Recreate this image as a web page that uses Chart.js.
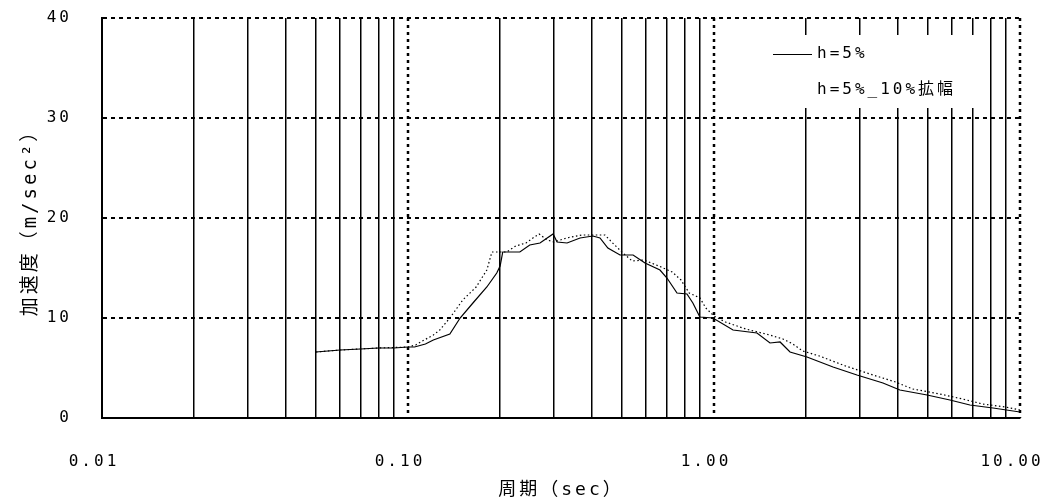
<!DOCTYPE html>
<html>
<head>
<meta charset="utf-8">
<script src="https://cdn.jsdelivr.net/npm/chart.js@4.4.0/dist/chart.umd.min.js"></script>
<style>
    html, body { margin: 0; padding: 0; background: #fff; }
    #wrap { width: 1048px; height: 502px; position: relative; }
</style>
</head>
<body>
<div id="wrap"><canvas id="spectrum"></canvas></div>
<script>
// h=5% response spectrum (period sec / acceleration m/sec2)
const periods5 = [0.050, 0.060, 0.070, 0.080, 0.090, 0.100, 0.105, 0.114, 0.121, 0.137,
                  0.148, 0.163, 0.181, 0.195, 0.200, 0.204, 0.232, 0.250, 0.270, 0.285,
                  0.298, 0.307, 0.331, 0.365, 0.402, 0.424, 0.450, 0.493, 0.544, 0.595,
                  0.666, 0.702, 0.757, 0.816, 0.853, 0.899, 0.992, 1.154, 1.382, 1.524,
                  1.644, 1.772, 2.013, 2.449, 2.932, 3.566, 4.050, 4.970, 5.900, 6.860,
                  8.160, 10.00];
const accel5 = [6.6, 6.8, 6.9, 7.0, 7.0, 7.1, 7.1, 7.4, 7.8, 8.4,
                10.0, 11.5, 13.1, 14.5, 15.2, 16.6, 16.6, 17.3, 17.5, 18.0,
                18.4, 17.6, 17.5, 18.0, 18.2, 18.0, 17.0, 16.3, 16.3, 15.5,
                14.8, 14.0, 12.5, 12.4, 11.5, 10.1, 10.0, 8.8, 8.5, 7.5,
                7.6, 6.6, 6.1, 5.1, 4.3, 3.5, 2.8, 2.3, 1.8, 1.3,
                1.0, 0.6];

// h=5% with 10% widening
const periods10 = [0.050, 0.060, 0.080, 0.100, 0.106, 0.110, 0.121, 0.127, 0.137, 0.151,
                   0.167, 0.181, 0.188, 0.210, 0.225, 0.243, 0.256, 0.268, 0.285, 0.300,
                   0.330, 0.370, 0.440, 0.470, 0.500, 0.540, 0.590, 0.660, 0.730, 0.780,
                   0.830, 0.900, 0.940, 1.000, 1.090, 1.270, 1.520, 1.680, 1.810, 1.950,
                   2.210, 2.690, 3.230, 3.920, 4.460, 5.470, 6.490, 7.550, 8.980, 10.00];
const accel10 = [6.6, 6.8, 7.0, 7.1, 7.3, 7.6, 8.3, 8.8, 10.0, 11.8,
                 13.1, 14.8, 16.6, 16.6, 17.2, 17.5, 18.0, 18.4, 17.8, 17.6,
                 18.0, 18.3, 18.3, 17.4, 16.6, 15.7, 15.8, 15.2, 14.6, 13.8,
                 12.5, 12.0, 11.0, 10.2, 9.6, 8.9, 8.3, 7.9, 7.4, 6.7,
                 6.2, 5.2, 4.4, 3.6, 2.9, 2.4, 1.9, 1.4, 1.1, 0.8];

const xTicks = [0.01, 0.02, 0.03, 0.04, 0.05, 0.06, 0.07, 0.08, 0.09,
                0.1, 0.2, 0.3, 0.4, 0.5, 0.6, 0.7, 0.8, 0.9,
                1, 2, 3, 4, 5, 6, 7, 8, 9, 10];
const xMajor = [0.01, 0.1, 1, 10];
const yTicks = [0, 10, 20, 30, 40];

const legendLabels = ['h=5%', 'h=5%_10%拡幅'];
const xTitle = '周期（sec）';
const yTitle = '加速度（m/sec²）';

const monoFont = "'DejaVu Sans Mono', 'Noto Sans CJK JP', monospace";

// wide spaced lettering like the original bitmap font
const spacingPlugin = {
    id: 'spacing',
    beforeUpdate(chart) { chart.ctx.letterSpacing = '3px'; },
    beforeDraw(chart) { chart.ctx.letterSpacing = '3px'; }
};

// decade lines are dotted, the rest solid
const majorGridPlugin = {
    id: 'majorGrid',
    beforeDatasetsDraw(chart) {
        const { ctx, chartArea, scales } = chart;
        ctx.save();
        ctx.strokeStyle = '#000';
        ctx.lineWidth = 2.5;
        ctx.setLineDash([3, 4]);
        xMajor.slice(1).forEach(v => {
            const px = Math.round(scales.x.getPixelForValue(v));
            ctx.beginPath();
            ctx.moveTo(px, chartArea.top);
            ctx.lineTo(px, chartArea.bottom);
            ctx.stroke();
        });
        ctx.restore();
    }
};

// legend sits inside the plot on a white box
const boxLegendPlugin = {
    id: 'boxLegend',
    afterDatasetsDraw(chart) {
        const { ctx, chartArea } = chart;
        const left = chartArea.right - 250;
        const top = chartArea.top + 17;
        ctx.save();
        ctx.fillStyle = '#fff';
        ctx.fillRect(left, top, 218, 73);
        ctx.strokeStyle = '#000';
        ctx.lineWidth = 1;
        ctx.beginPath();
        ctx.moveTo(left + 3, top + 19.5);
        ctx.lineTo(left + 42, top + 19.5);
        ctx.stroke();
        ctx.font = '16px ' + monoFont;
        ctx.fillStyle = '#000';
        ctx.textBaseline = 'middle';
        ctx.fillText(legendLabels[0], left + 47, top + 19);
        ctx.fillText(legendLabels[1], left + 47, top + 55);
        ctx.restore();
    }
};

const ctx = document.getElementById('spectrum').getContext('2d');

new Chart(ctx, {
    type: 'line',
    data: {
        datasets: [{
            label: legendLabels[0],
            data: periods5.map((p, i) => ({ x: p, y: accel5[i] })),
            borderColor: '#000',
            borderWidth: 1.2,
            pointRadius: 0,
            fill: false
        }, {
            label: legendLabels[1],
            data: periods10.map((p, i) => ({ x: p, y: accel10[i] })),
            borderColor: '#000',
            borderWidth: 1.2,
            borderDash: [1.5, 2.5],
            pointRadius: 0,
            fill: false
        }]
    },
    options: {
        responsive: true,
        maintainAspectRatio: false,
        animation: false,
        layout: { padding: { top: 18, right: 28, left: 0, bottom: 0 } },
        plugins: {
            legend: { display: false },
            tooltip: { enabled: false }
        },
        scales: {
            x: {
                type: 'logarithmic',
                min: 0.01,
                max: 10,
                afterBuildTicks: s => { s.ticks = xTicks.map(v => ({ value: v })); },
                afterFit: s => {
                    s.height = 84;
                    s.paddingLeft = 0;
                    s.paddingRight = 0;
                },
                ticks: {
                    autoSkip: false,
                    maxRotation: 0,
                    padding: 34,
                    labelOffset: -8,
                    color: '#000',
                    font: { family: monoFont, size: 16 },
                    callback: v => xMajor.includes(v) ? v.toFixed(2) : ''
                },
                grid: {
                    drawTicks: false,
                    lineWidth: 1.5,
                    color: c => (c.tick && xMajor.includes(c.tick.value)) ? 'rgba(0,0,0,0)' : '#000'
                },
                border: { color: '#000', width: 2 },
                title: {
                    display: true,
                    text: xTitle,
                    color: '#000',
                    font: { family: monoFont, size: 18 },
                    padding: { top: 4, bottom: 1 }
                }
            },
            y: {
                min: 0,
                max: 40,
                afterBuildTicks: s => { s.ticks = yTicks.map(v => ({ value: v })); },
                afterFit: s => {
                    s.width = 102;
                    s.paddingTop = 0;
                    s.paddingBottom = 0;
                },
                ticks: {
                    padding: 30,
                    color: '#000',
                    font: { family: monoFont, size: 16 }
                },
                grid: { drawTicks: false, lineWidth: 2, color: '#000' },
                border: { color: '#000', width: 2, dash: [4, 4] },
                title: {
                    display: true,
                    text: yTitle,
                    color: '#000',
                    font: { family: monoFont, size: 19 },
                    padding: { top: 20, bottom: 0 }
                }
            }
        }
    },
    plugins: [spacingPlugin, majorGridPlugin, boxLegendPlugin]
});
</script>
</body>
</html>
